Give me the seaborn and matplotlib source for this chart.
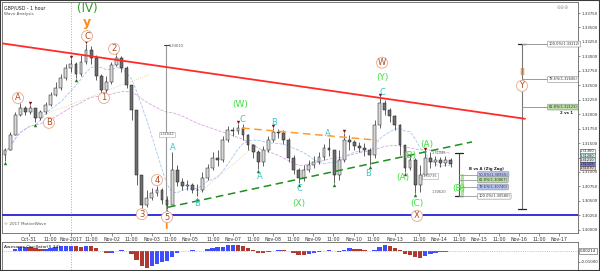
import numpy as np
import pandas as pd
import matplotlib
matplotlib.use("Agg")
import matplotlib.pyplot as plt
from matplotlib.patches import Rectangle
import seaborn as sns

# ---------------- data ----------------
bar_hours = [3 * i for i in range(90)]          # 3-hour bars
closes = [1.3129, 1.3138, 1.3164, 1.3199, 1.3211, 1.3204, 1.3211, 1.3193, 1.3204, 1.3216,
          1.3233, 1.3245, 1.3263, 1.3280, 1.3287, 1.3270, 1.3290, 1.3311, 1.3297, 1.3266,
          1.3242, 1.3256, 1.3285, 1.3297, 1.3280, 1.3251, 1.3207, 1.3095, 1.3043, 1.3055,
          1.3064, 1.3069, 1.3052, 1.3043, 1.3103, 1.3083, 1.3076, 1.3078, 1.3069, 1.3069,
          1.3090, 1.3107, 1.3124, 1.3121, 1.3155, 1.3173, 1.3171, 1.3176, 1.3164, 1.3147,
          1.3135, 1.3117, 1.3138, 1.3155, 1.3169, 1.3167, 1.3155, 1.3124, 1.3103, 1.3090,
          1.3103, 1.3112, 1.3117, 1.3126, 1.3141, 1.3138, 1.3095, 1.3121, 1.3155, 1.3152,
          1.3145, 1.3141, 1.3138, 1.3129, 1.3181, 1.3219, 1.3207, 1.3197, 1.3181, 1.3147,
          1.3107, 1.3121, 1.3078, 1.3095, 1.3124, 1.3117, 1.3121, 1.3115, 1.3121, 1.3114]
highs = [1.3146, 1.3141, 1.3169, 1.3204, 1.3219, 1.3214, 1.3216, 1.3211, 1.3207, 1.3221,
         1.3238, 1.3256, 1.3270, 1.3287, 1.3295, 1.3290, 1.3302, 1.3321, 1.3318, 1.3302,
         1.3270, 1.3266, 1.3290, 1.3302, 1.3301, 1.3283, 1.3251, 1.3207, 1.3095, 1.3069,
         1.3072, 1.3076, 1.3072, 1.3058, 1.3135, 1.3112, 1.3090, 1.3086, 1.3081, 1.3079,
         1.3100, 1.3114, 1.3135, 1.3138, 1.3162, 1.3180, 1.3178, 1.3183, 1.3183, 1.3166,
         1.3148, 1.3138, 1.3145, 1.3162, 1.3176, 1.3174, 1.3173, 1.3159, 1.3129, 1.3107,
         1.3112, 1.3121, 1.3128, 1.3135, 1.3148, 1.3159, 1.3138, 1.3138, 1.3167, 1.3164,
         1.3155, 1.3152, 1.3150, 1.3141, 1.3190, 1.3230, 1.3224, 1.3211, 1.3199, 1.3183,
         1.3147, 1.3131, 1.3124, 1.3112, 1.3135, 1.3135, 1.3128, 1.3126, 1.3128, 1.3124]
lows = [1.3124, 1.3119, 1.3138, 1.3164, 1.3197, 1.3199, 1.3200, 1.3186, 1.3190, 1.3200,
        1.3214, 1.3231, 1.3242, 1.3259, 1.3273, 1.3263, 1.3266, 1.3287, 1.3287, 1.3259,
        1.3237, 1.3237, 1.3252, 1.3283, 1.3273, 1.3245, 1.3190, 1.3078, 1.3034, 1.3039,
        1.3052, 1.3058, 1.3045, 1.3036, 1.3043, 1.3076, 1.3069, 1.3069, 1.3064, 1.3058,
        1.3065, 1.3086, 1.3103, 1.3110, 1.3117, 1.3152, 1.3162, 1.3166, 1.3155, 1.3138,
        1.3124, 1.3105, 1.3110, 1.3135, 1.3152, 1.3159, 1.3148, 1.3117, 1.3096, 1.3081,
        1.3084, 1.3100, 1.3107, 1.3114, 1.3121, 1.3128, 1.3081, 1.3086, 1.3117, 1.3138,
        1.3138, 1.3135, 1.3128, 1.3112, 1.3124, 1.3176, 1.3199, 1.3186, 1.3173, 1.3129,
        1.3100, 1.3103, 1.3064, 1.3065, 1.3090, 1.3107, 1.3110, 1.3108, 1.3110, 1.3108]
first_open = 1.3135

red_fractal_idx = [6, 14, 17, 23, 47, 54, 68, 75, 84]
green_fractal_idx = [1, 7, 15, 20, 28, 33, 39, 51, 59, 66, 73, 80, 82]

tick_hours = [17.2, 29.6, 42.1, 53.9, 66.4, 77.6, 90.1, 100.7, 112.6, 126.2, 138.1, 149.9,
              161.8, 173.6, 185.5, 197.3, 209.8, 221.0, 234.1, 248.3, 260.1, 272.0, 283.9,
              295.7, 307.6, 319.4, 331.3]
tick_labels = ["Oct-31", "11:00", "Nov-2017", "11:00", "Nov-02", "11:00", "Nov-03", "11:00",
               "Nov-05", "11:00", "Nov-07", "11:00", "Nov-08", "11:00", "Nov-09", "11:00",
               "Nov-10", "11:00", "Nov-13", "11:00", "Nov-14", "11:00", "Nov-15", "11:00",
               "Nov-16", "11:00", "Nov-17"]
month_sep_hour = 42.1

# trend lines (hour, price)
red_trend_t = [0.0, 311.1]
red_trend_p = [1.3323, 1.3192]
green_trend_t = [99.6, 279.7]
green_trend_p = [1.3039, 1.3152]
orange_trend_t = [143.4, 223.4]
orange_trend_p = [1.3176, 1.3155]
tan_link1_t = [20.7, 88.9]
tan_link1_p = [1.3193, 1.3269]
tan_link2_t = [115.6, 148.1]
tan_link2_p = [1.3058, 1.3138]
support_level = 1.3025

# Fibonacci tools
fib_main_hour = 309.3
fib_main_low, fib_main_high = 1.3036, 1.33212
fib_main_levels = [1.0, 0.786, 0.618]
fib_main_texts = ["100.0%(1.33212)", "78.6%(1.32606)", "61.8%(1.32123)"]
fib_main_faces = ["white", "white", "#b8e0a0"]
fib_b_hour = 272.0
fib_b_top, fib_b_bottom = 1.3133, 1.3058
fib_b_levels = [0.5, 0.618, 0.786, 1.0]
fib_b_texts = ["50.0%(1.30955)", "61.8%(1.30867)", "78.6%(1.30740)", "100.0%(1.30580)"]
fib_b_faces = ["#b8c4f0", "#b8e0a0", "#b8c4f0", "white"]
vline_hour = 98.4
vline_top, vline_bottom = 1.3320, 1.3034

# current price markers on the right axis
price_box_values = [1.3136, 1.3128, 1.3121, 1.3114, 1.3107]
price_box_texts = ["1.31360", "1.31280", "1.31210", "1.31108", "1.31070"]
price_box_faces = ["white", "#c8f0f0", "#e0e0e0", "#6b78e8", "#f0c8c8"]

# wave labels (hour, price)
brown_labels = [("A", 10.7, 1.3228), ("B", 29.0, 1.3185), ("C", 51.6, 1.3335), ("1", 61.6, 1.3228),
                ("2", 67.6, 1.3313), ("3", 84.1, 1.3027), ("4", 93.0, 1.3086), ("5", 99.0, 1.3022),
                ("W", 226.4, 1.3289), ("X", 247.1, 1.3024), ("Y", 309.3, 1.3249)]
green_labels = [("(W)", 142.2, 1.3216), ("(X)", 177.2, 1.3046), ("(Y)", 226.4, 1.3263),
                ("(A)", 238.8, 1.3091), ("(B)", 243.0, 1.3128), ("(A)", 253.0, 1.3147),
                ("(C)", 247.1, 1.3046), ("(B)", 272.0, 1.3071)]
cyan_labels = [("A", 102.5, 1.3143), ("B", 116.7, 1.3045), ("C", 143.4, 1.3190),
               ("A", 154.1, 1.3093), ("B", 162.4, 1.3186), ("C", 177.2, 1.3072),
               ("A", 194.4, 1.3167), ("B", 218.1, 1.3098), ("C", 226.4, 1.3238)]

# ---------------- derived series ----------------
df = pd.DataFrame({"t": bar_hours, "close": closes, "high": highs, "low": lows})
df["open"] = [first_open] + closes[:-1]
df["hi"] = df[["high", "open", "close"]].max(axis=1)
df["lo"] = df[["low", "open", "close"]].min(axis=1)
df["median"] = (df["hi"] + df["lo"]) / 2
df["ma_long"] = df["close"].rolling(33, min_periods=1).mean()
df["ma_short"] = df["close"].rolling(8, min_periods=1).mean()
ao = df["median"].rolling(2, min_periods=1).mean() - df["median"].rolling(11, min_periods=1).mean()
df["ao"] = ao
df["ao_col"] = np.where(ao.diff().fillna(0) >= 0, "#3d4dff", "#b0392f")

sns.set_theme(style="white")
plt.rcParams["font.family"] = ["DejaVu Sans"]

fig = plt.figure(figsize=(6.0, 2.71), dpi=100)
ax = fig.add_axes([2 / 600, 38 / 271, 576 / 600, 231 / 271])
axo = fig.add_axes([2 / 600, 1 / 271, 576 / 600, 28 / 271], sharex=ax)

# moving averages
sns.lineplot(x=df["t"], y=df["ma_long"], ax=ax, color="#d9a6e0", lw=0.6, linestyle="--", zorder=1)
sns.lineplot(x=df["t"], y=df["ma_short"], ax=ax, color="#a9c4f0", lw=0.6, linestyle="--", zorder=1)

# candles
up = df["close"] >= df["open"]
ax.vlines(df["t"], df["lo"], df["hi"], color="#222222", lw=0.5, zorder=3)
body_bottom = df[["open", "close"]].min(axis=1)
body_h = (df["close"] - df["open"]).abs().clip(lower=0.00006)
ax.bar(df["t"], body_h, bottom=body_bottom, width=1.7,
       color=np.where(up, "#d8d8d8", "#6e6e6e"), edgecolor="#1a1a1a", linewidth=0.35, zorder=4)

# fractal markers
rf = df.iloc[red_fractal_idx]
gf = df.iloc[green_fractal_idx]
ax.scatter(rf["t"], rf["hi"] + 0.0004, marker="v", s=6, color="#8b1010", zorder=5, linewidths=0)
ax.scatter(gf["t"], gf["lo"] - 0.0004, marker="^", s=6, color="#1a7a1a", zorder=5, linewidths=0)

# trend lines
sns.lineplot(x=red_trend_t, y=red_trend_p, ax=ax, color="#ff2a2a", lw=1.3, zorder=6)
ax.plot(green_trend_t, green_trend_p, color="#1f8f1f", lw=1.1, ls=(0, (5, 3)), zorder=6)
ax.plot(orange_trend_t, orange_trend_p, color="#ff9a33", lw=1.1, ls=(0, (5, 3)), zorder=6)
ax.plot(tan_link1_t, tan_link1_p, color="#d8cf9a", lw=0.6, ls=":", zorder=2)
ax.plot(tan_link2_t, tan_link2_p, color="#d8cf9a", lw=0.6, ls=":", zorder=2)
ax.axhline(support_level, color="#3333dd", lw=1.4, zorder=6)
ax.axvline(month_sep_hour, color="#aaaaaa", lw=0.7, ls=":", zorder=0)
axo.axvline(month_sep_hour, color="#aaaaaa", lw=0.7, ls=":", zorder=0)

# grey vertical measurement line
ax.plot([vline_hour, vline_hour], [vline_bottom, vline_top], color="#999999", lw=0.8, zorder=2)
ax.plot([vline_hour - 1.5, vline_hour + 1.5], [vline_top, vline_top], color="#444", lw=0.8)
ax.text(vline_hour + 1.5, vline_top - 0.0002, "1.33010", fontsize=2.6, color="#555", va="center")
ax.text(vline_hour + 0.5, 1.3165, "1.31642", fontsize=2.6, color="#555", va="center", ha="center",
        bbox=dict(boxstyle="square,pad=0.2", fc="white", ec="#aaa", lw=0.4))
ax.text(vline_hour, 1.2999 + 0.0008, "I", fontsize=7, color="#ff8a2a", ha="center", va="center",
        fontweight="bold")

# main fib tool
rng = fib_main_high - fib_main_low
ax.plot([fib_main_hour, fib_main_hour], [fib_main_low, fib_main_high], color="#777", lw=0.8)
for yy in (fib_main_low, fib_main_high):
    ax.plot([fib_main_hour - 2.5, fib_main_hour + 2.5], [yy, yy], color="#222", lw=0.9)
for lv, tx, fc in zip(fib_main_levels, fib_main_texts, fib_main_faces):
    yv = fib_main_low + lv * rng
    ax.plot([fib_main_hour, 324.5], [yv, yv], color="#999", lw=0.7)
    ax.text(325, yv, tx, fontsize=2.6, va="center", ha="left", color="#333",
            bbox=dict(boxstyle="round,pad=0.25", fc=fc, ec="#888", lw=0.4))
ax.text(335.5, fib_main_low + 0.618 * rng - 0.00105, "2 vs 1", fontsize=2.8, color="#222",
        fontweight="bold", ha="center", va="center")
ax.text(fib_main_hour, fib_main_low + 0.83 * rng, "II", fontsize=6, color="#ff9a44",
        ha="center", va="center", fontweight="bold")

# B vs A fib tool
rb = fib_b_top - fib_b_bottom
ax.plot([fib_b_hour, fib_b_hour], [fib_b_bottom, fib_b_top], color="#555", lw=0.8)
for yy in (fib_b_bottom, fib_b_top):
    ax.plot([fib_b_hour - 2.5, fib_b_hour + 2.5], [yy, yy], color="#222", lw=0.9)
ax.plot([fib_b_hour + 2.0, fib_b_hour + 2.0], [fib_b_top - 0.5 * rb, fib_b_top - 0.95 * rb],
        color="#a8e890", lw=2.2, zorder=2)
ax.text(fib_b_hour + 6, fib_b_top - 0.5 * rb + 0.0009, "B vs A (Zig Zag)", fontsize=2.8,
        color="#222", fontweight="bold", va="center")
for lv, tx, fc in zip(fib_b_levels, fib_b_texts, fib_b_faces):
    yv = fib_b_top - lv * rb
    ax.plot([fib_b_hour, fib_b_hour + 11], [yv, yv], color="#999", lw=0.6)
    ax.text(fib_b_hour + 11.5, yv, tx, fontsize=2.6, va="center", ha="left", color="#333",
            bbox=dict(boxstyle="round,pad=0.25", fc=fc, ec="#888", lw=0.4))

# small zigzag price notes
ax.text(250.5, 1.3091, "1.30735", fontsize=2.5, color="#555",
        bbox=dict(boxstyle="square,pad=0.2", fc="white", ec="#aaa", lw=0.4))
ax.text(255.5, 1.3131, "1.31085", fontsize=2.5, color="#555")
ax.text(255.5, 1.3064, "1.30620", fontsize=2.5, color="#555")

# wave labels
for tx, t, p in brown_labels:
    ax.text(t, p, tx, fontsize=6, color="#b04a1c", ha="center", va="center", zorder=8,
            bbox=dict(boxstyle="circle,pad=0.12", fc="white", ec="#eaa488", lw=0.6))
for tx, t, p in green_labels:
    ax.text(t, p, tx, fontsize=6.5, color="#3ee03e", ha="center", va="center", zorder=8)
for tx, t, p in cyan_labels:
    ax.text(t, p, tx, fontsize=6, color="#36c8cc", ha="center", va="center", zorder=8)
ax.text(51.6, 1.3382, "(IV)", fontsize=8.5, color="#2c9a2c", ha="center", va="center")
ax.text(51.6, 1.3358, "y", fontsize=9, color="#ff8a1a", ha="center", va="center", fontweight="bold")

# titles / notes
ax.text(0.004, 0.985, "GBP/USD - 1 hour", transform=ax.transAxes, fontsize=3.4, color="#222",
        va="top", ha="left")
ax.text(0.004, 0.955, "Wave Analysis", transform=ax.transAxes, fontsize=3.0, color="#555",
        va="top", ha="left")
ax.text(0.004, 0.03, "\u00a9 2017 MotiveWave", transform=ax.transAxes, fontsize=3.0, color="#555",
        va="bottom", ha="left")
ax.text(0.985, 0.985, "\u2295\u2295\u2295", transform=ax.transAxes, fontsize=3.5, color="#aaa",
        va="top", ha="right")

# axes formatting
ax.set_xlim(2 / 1.6875, 578 / 1.6875)
ax.set_ylim(1.33975 - 0.000173 * 233, 1.33975 - 0.000173 * 2)
ax.set_xlabel("")
ax.set_ylabel("")
ax.yaxis.tick_right()
yt = np.arange(1.3000, 1.33751, 0.0025)
ax.set_yticks(yt)
# the 1.31250 label is hidden behind the current-price markers (as in the reference)
ax.set_yticklabels(["" if abs(v - 1.3125) < 1e-6 else f"{v:.5f}" for v in yt])
ax.set_yticks(np.arange(1.2995, 1.3394, 0.0005), minor=True)
ax.set_xticks(tick_hours)
ax.set_xticklabels(tick_labels)
ax.tick_params(axis="y", which="major", right=True, left=False, labelsize=2.9, length=1.5,
               width=0.4, pad=0.8, colors="#333")
ax.tick_params(axis="y", which="minor", right=True, left=False, length=0.8, width=0.3, colors="#555")
ax.tick_params(axis="x", bottom=True, labelsize=3.4, length=2, width=0.4, pad=1.2, colors="#333")
for s in ax.spines.values():
    s.set_color("#666")
    s.set_linewidth(0.6)

# Awesome oscillator
axo.bar(df["t"], df["ao"], width=2.6, color=df["ao_col"], linewidth=0)
axo.axhline(0, color="#999", lw=0.5, ls=":")
axo.set_ylim(-0.0173, 0.0082)
axo.yaxis.tick_right()
axo.set_yticks([-0.01])
axo.set_yticklabels(["-0.01000"])
axo.tick_params(axis="y", right=True, left=False, labelsize=2.9, length=1.5, width=0.4, pad=0.8,
                colors="#333")
axo.tick_params(axis="x", bottom=False, labelbottom=False)
axo.set_xlabel("")
axo.set_ylabel("")
for s in axo.spines.values():
    s.set_color("#666")
    s.set_linewidth(0.6)
axo.text(1.0 + 2 / 576, 0.0, "0.00214", transform=axo.get_yaxis_transform(), fontsize=2.8,
         va="center", ha="left", color="#222",
         bbox=dict(boxstyle="square,pad=0.15", fc="white", ec="#555", lw=0.4))
axo.text(0.004, 0.9, "Awesome Oscillator(5,34)", transform=axo.transAxes, fontsize=3.2,
         color="#111", va="top", ha="left")

# current price boxes on right axis
for pv, tx, fc in zip(price_box_values, price_box_texts, price_box_faces):
    ax.text(1.0 + 2 / 576, pv, tx, transform=ax.get_yaxis_transform(), fontsize=2.5,
            va="center", ha="left", color="#222", zorder=10,
            bbox=dict(boxstyle="square,pad=0.1", fc=fc, ec="#555", lw=0.4))

fig.patches.append(Rectangle((0, 0), 1, 1, transform=fig.transFigure, fill=False,
                             ec="#3a3a3a", lw=1.5))
fig.savefig("out.png", dpi=100)
